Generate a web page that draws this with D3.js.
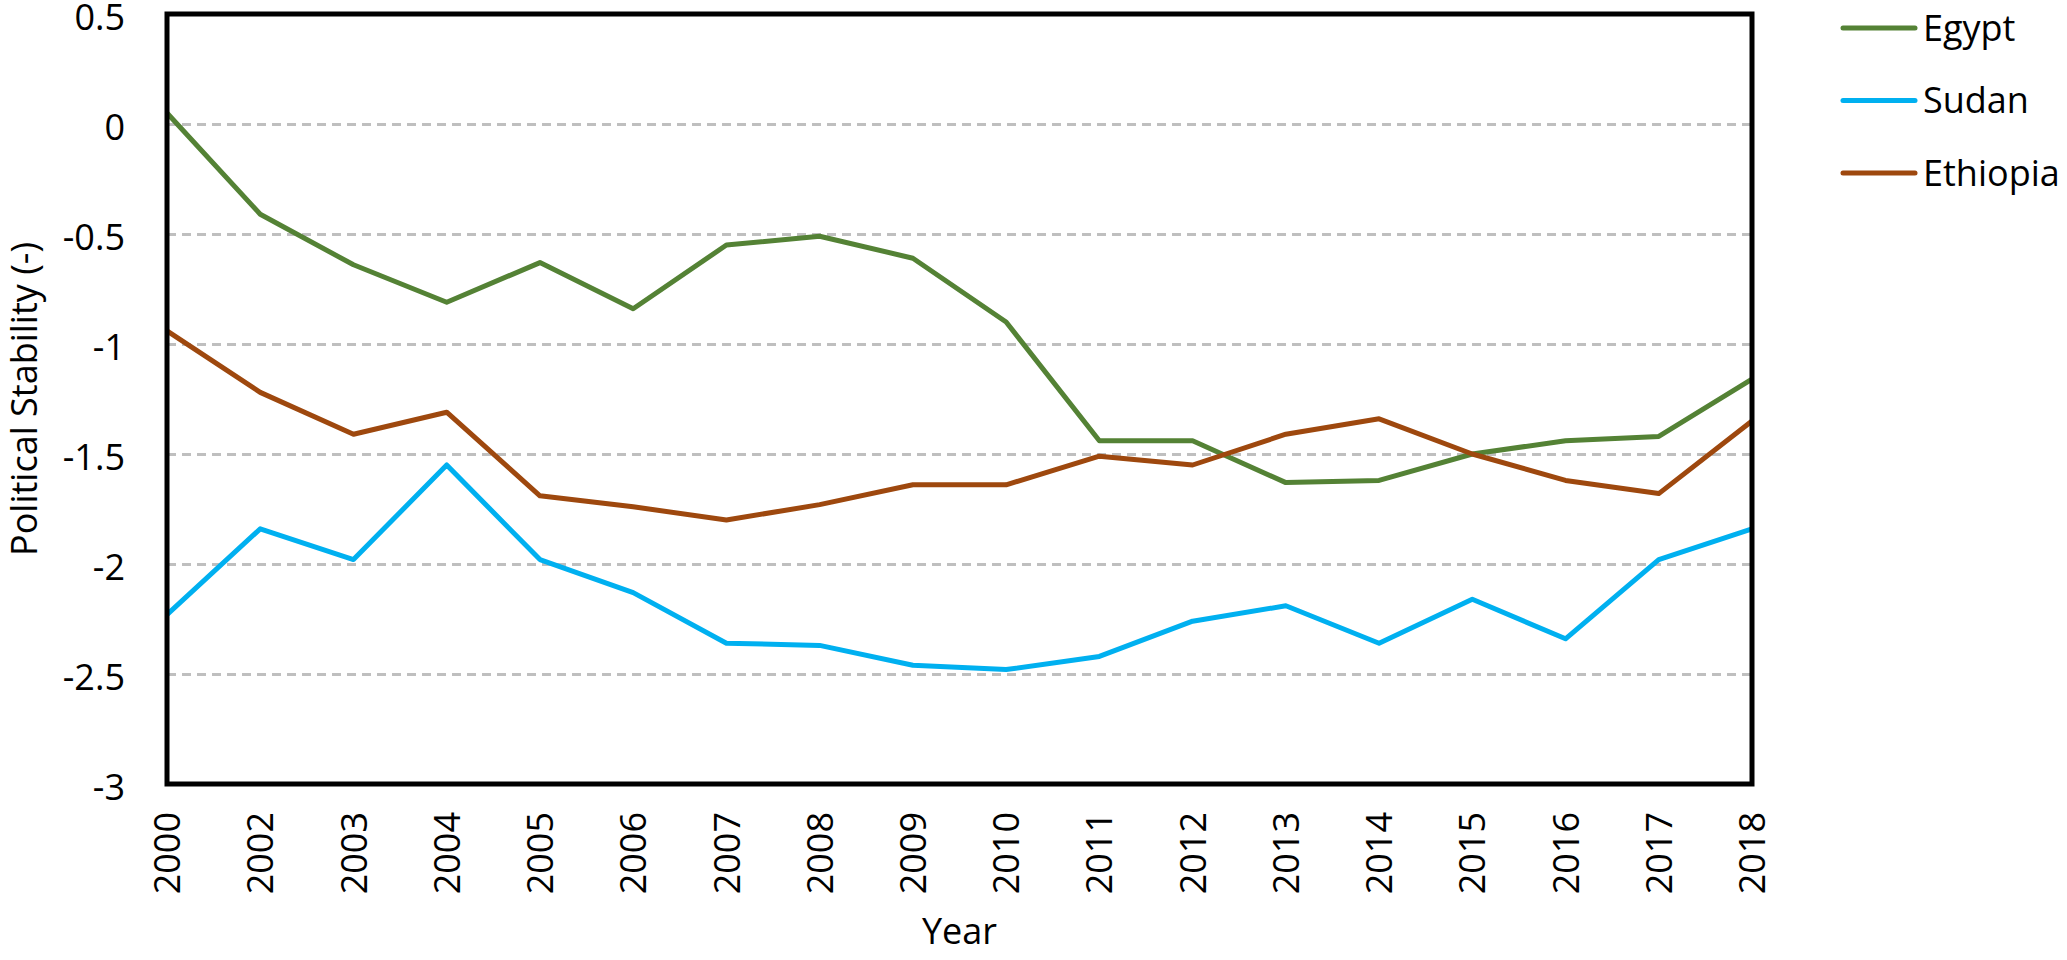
<!DOCTYPE html>
<html>
<head>
<meta charset="utf-8">
<script src="https://cdn.jsdelivr.net/npm/d3@7"></script>
<style>
  body { margin: 0; background: #fff; }
  text { font-family: 'Open Sans', sans-serif; fill: #000; }
</style>
</head>
<body>
<div id="chart"></div>
<script>
const years = ['2000', '2002', '2003', '2004', '2005', '2006', '2007', '2008', '2009',
               '2010', '2011', '2012', '2013', '2014', '2015', '2016', '2017', '2018'];
const egypt = [0.05, -0.41, -0.64, -0.81, -0.63, -0.84, -0.55, -0.51, -0.61,
               -0.90, -1.44, -1.44, -1.63, -1.62, -1.50, -1.44, -1.42, -1.16];
const sudan = [-2.23, -1.84, -1.98, -1.55, -1.98, -2.13, -2.36, -2.37, -2.46,
               -2.48, -2.42, -2.26, -2.19, -2.36, -2.16, -2.34, -1.98, -1.84];
const ethiopia = [-0.94, -1.22, -1.41, -1.31, -1.69, -1.74, -1.80, -1.73, -1.64,
                  -1.64, -1.51, -1.55, -1.41, -1.34, -1.50, -1.62, -1.68, -1.35];
const seriesNames = ['Egypt', 'Sudan', 'Ethiopia'];
const yTicks = [0.5, 0, -0.5, -1, -1.5, -2, -2.5, -3];

const width = 2067;
const height = 960;
const margin = { top: 14, right: 315, bottom: 176, left: 167 };
const fontSize = 36;

const colors = { Egypt: '#548235', Sudan: '#00b0f0', Ethiopia: '#9e480e' };
const series = [
  { name: 'Egypt', values: egypt },
  { name: 'Sudan', values: sudan },
  { name: 'Ethiopia', values: ethiopia }
];

const svg = d3.select('#chart')
              .append('svg')
              .attr('width', width)
              .attr('height', height);

const x = d3.scalePoint()
            .domain(years)
            .range([margin.left, width - margin.right])
            .padding(0);

const y = d3.scaleLinear()
            .domain([-3, 0.5])
            .range([height - margin.bottom, margin.top]);

// dashed gridlines
svg.append('g')
   .attr('transform', 'translate(' + margin.left + ',0)')
   .call(d3.axisRight(y)
           .tickValues(yTicks.filter((d) => d < 0.5 && d > -3))
           .tickSize(width - margin.left - margin.right)
           .tickFormat(''))
   .call((g) => g.select('.domain').remove())
   .call((g) => g.selectAll('line')
                 .attr('stroke', '#bfbfbf')
                 .attr('stroke-width', 3)
                 .attr('stroke-dasharray', '9,6'));

// y tick labels (plain hyphen minus, like the original)
svg.append('g')
   .attr('transform', 'translate(' + (margin.left - 42) + ',0)')
   .call(d3.axisLeft(y).tickValues(yTicks).tickSize(0).tickFormat((d) => String(d)))
   .call((g) => g.select('.domain').remove())
   .call((g) => g.selectAll('text')
                 .attr('x', 0)
                 .attr('dy', '0.42em')
                 .style('font-size', fontSize + 'px')
                 .style('font-family', "'Open Sans', sans-serif"));

// x tick labels, rotated
svg.append('g')
   .attr('transform', 'translate(0,' + (height - margin.bottom) + ')')
   .call(d3.axisBottom(x).tickSize(0))
   .call((g) => g.select('.domain').remove())
   .call((g) => g.selectAll('text')
                 .attr('transform', 'rotate(-90)')
                 .attr('x', -28)
                 .attr('y', 0)
                 .attr('dy', '0.35em')
                 .attr('text-anchor', 'end')
                 .style('font-size', fontSize + 'px')
                 .style('font-family', "'Open Sans', sans-serif"));

const line = d3.line()
               .x((d, i) => x(years[i]))
               .y((d) => y(d));

svg.selectAll('.series')
   .data(series)
   .enter()
   .append('path')
   .attr('class', 'series')
   .attr('d', (d) => line(d.values))
   .attr('fill', 'none')
   .attr('stroke', (d) => colors[d.name])
   .attr('stroke-width', 5)
   .attr('stroke-linejoin', 'round');

// plot frame
svg.append('rect')
   .attr('x', margin.left)
   .attr('y', margin.top)
   .attr('width', width - margin.left - margin.right)
   .attr('height', height - margin.top - margin.bottom)
   .attr('fill', 'none')
   .attr('stroke', '#000')
   .attr('stroke-width', 5);

// axis titles
svg.append('text')
   .attr('x', (margin.left + width - margin.right) / 2)
   .attr('y', 944)
   .attr('text-anchor', 'middle')
   .style('font-size', fontSize + 'px')
   .text('Year');

svg.append('text')
   .attr('transform', 'translate(24,' + (margin.top + height - margin.bottom) / 2 + ') rotate(-90)')
   .attr('text-anchor', 'middle')
   .attr('dy', '0.35em')
   .style('font-size', fontSize + 'px')
   .text('Political Stability (-)');

// legend
const legend = svg.selectAll('.legend')
                  .data(seriesNames)
                  .enter()
                  .append('g')
                  .attr('class', 'legend')
                  .attr('transform', (d, i) => 'translate(1843,' + (28 + i * 72.5) + ')');

legend.append('line')
      .attr('x1', 0)
      .attr('x2', 72)
      .attr('stroke', (d) => colors[d])
      .attr('stroke-width', 5)
      .attr('stroke-linecap', 'round');

legend.append('text')
      .attr('x', 80)
      .attr('dy', '0.35em')
      .style('font-size', fontSize + 'px')
      .text((d) => d);
</script>
</body>
</html>
